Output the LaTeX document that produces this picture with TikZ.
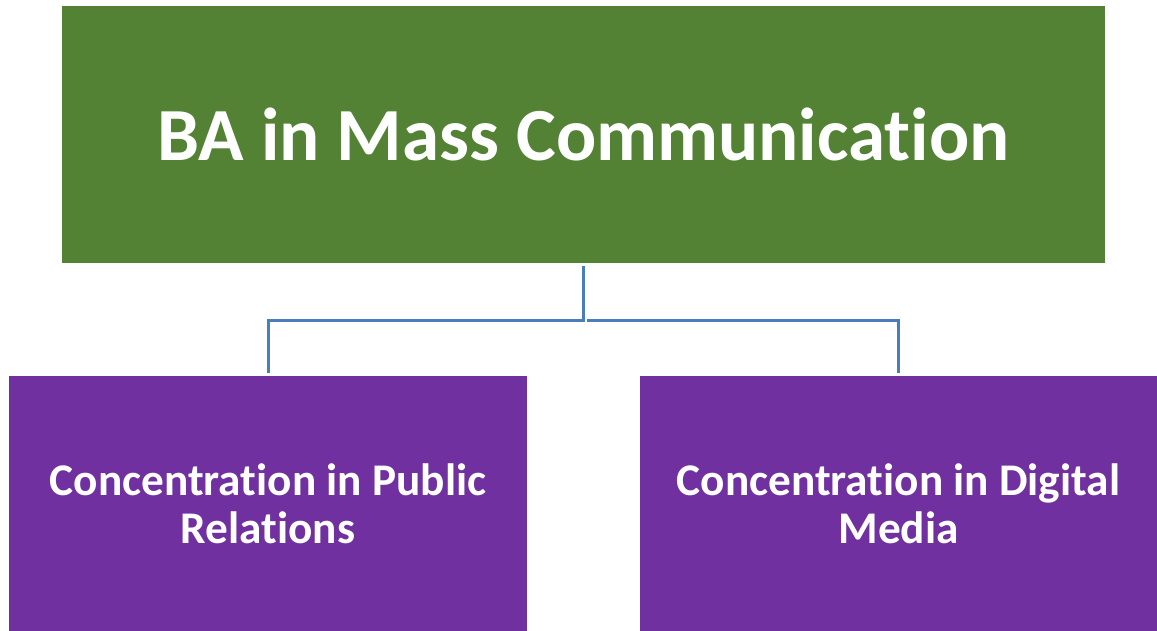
\documentclass[tikz,border=0pt]{standalone}
\usepackage{fontspec}
\setmainfont{Carlito}[Ligatures={NoCommon}]
\usepackage{xcolor}
\usepackage{tikz}
\usetikzlibrary{positioning, calc}

\definecolor{degreegreen}{HTML}{548235}
\definecolor{concpurple}{HTML}{7030A0}
\definecolor{linkblue}{RGB}{74,126,187}

\begin{document}
\begin{tikzpicture}[x=1pt, y=-1pt,
        box/.style={rectangle, inner sep=0pt, text=white, align=center, font=\bfseries},
        link/.style={draw=linkblue, line width=3pt, shorten <=3pt, shorten >=3pt}]
            \useasboundingbox (0,0) rectangle (1157,631);

            \node[box, fill=degreegreen, minimum width=1043pt, minimum height=257pt,
                  font=\bfseries\fontsize{75}{90}\selectfont] (ba) at (583.5,134.5) {BA in Mass Communication};

            \node[box, fill=concpurple, minimum width=518pt, minimum height=255pt,
                  font=\bfseries\fontsize{45.3}{48}\selectfont] (pr) at (268,503.5) {Concentration in Public\\Relations};
            \node[box, fill=concpurple, minimum width=517pt, minimum height=255pt,
                  font=\bfseries\fontsize{45.3}{48}\selectfont] (dm) at (898.5,503.5) {Concentration in Digital\\Media};

            \coordinate (split) at (583.5,320);

            \draw[link] (ba.south) -- (split) -| (pr.north);
            \draw[link] (split) -| (dm.north);
        \end{tikzpicture}
\end{document}
